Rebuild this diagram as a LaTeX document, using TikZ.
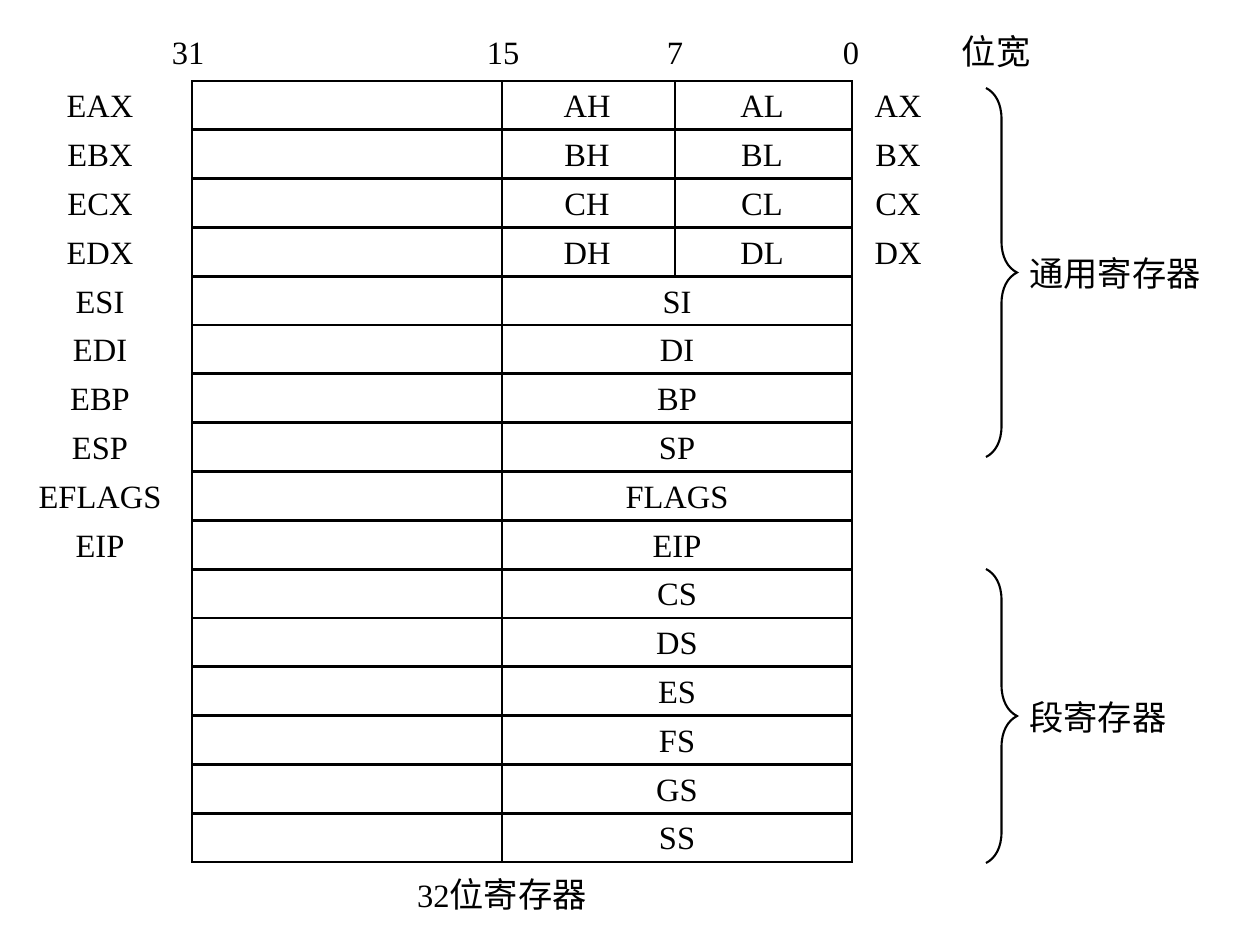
\documentclass[tikz,border=0pt]{standalone}
\usepackage{fontspec}
\setmainfont{Liberation Serif}
\newfontfamily\cjk{Noto Sans CJK SC}
\usetikzlibrary{positioning,decorations.pathreplacing}
\newcommand{\rowh}{48.8125}
\tikzset{
  reg/.style={font=\fontsize{18.5}{20}\selectfont,inner sep=0pt,yshift=-1pt},
  grp/.style={font=\fontsize{19.5}{21}\selectfont\cjk,inner sep=0pt,anchor=west},
  tbl/.style={line width=1.6pt},
  brc/.style={decorate,decoration={brace,amplitude=0.62cm},line width=1.2pt},
}

\begin{document}
\begin{tikzpicture}[x=0.02cm,y=-0.02cm]
  \useasboundingbox (0,0) rectangle (1241,936);
  % register table
  \draw[tbl] (192,81) rectangle (852,862);
  \foreach \i in {1,...,15} {\draw[tbl] (192,81+\i*\rowh) -- (852,81+\i*\rowh);}
  \draw[tbl] (502,81) -- (502,862);
  \draw[tbl] (675,81) -- (675,81+4*\rowh);
  % bit positions
  \node[reg] (b31) at (188,52) {31};
  \node[reg] (b15) at (503,52) {15};
  \node[reg] (b7) at (675,52) {7};
  \node[reg] (b0) at (851,52) {0};
  \node[grp,anchor=center] (width) at (996,52) {位宽};
  % 32-bit names on the left
  \foreach \n [count=\i from 0] in {EAX,EBX,ECX,EDX,ESI,EDI,EBP,ESP,EFLAGS,EIP}
    \node[reg] (e\n) at (100,81+\i*\rowh+0.5*\rowh) {\n};
  % byte halves
  \foreach \h/\l/\x [count=\i from 0] in {AH/AL/AX,BH/BL/BX,CH/CL/CX,DH/DL/DX} {
    \node[reg] (\h) at (587,81+\i*\rowh+0.5*\rowh) {\h};
    \node[reg] (\l) at (762,81+\i*\rowh+0.5*\rowh) {\l};
    \node[reg] (\x) at (898,81+\i*\rowh+0.5*\rowh) {\x};
  }
  % 16-bit halves
  \foreach \n [count=\i from 4] in {SI,DI,BP,SP,FLAGS,EIP,CS,DS,ES,FS,GS,SS}
    \node[reg] (w\n) at (677,81+\i*\rowh+0.5*\rowh) {\n};
  % groups
  \coordinate (gtop) at (986,88);
  \coordinate (gbot) at (986,457);
  \coordinate (stop) at (986,569);
  \coordinate (sbot) at (986,863);
  \draw[brc] (gtop) -- (gbot);
  \draw[brc] (stop) -- (sbot);
  \node[grp] (general) at (1029,273) {通用寄存器};
  \node[grp] (segment) at (1029,717) {段寄存器};
  \node[grp,anchor=center] (caption) at (502,894) {{\fontsize{18.5}{20}\selectfont\rmfamily 32}位寄存器};
\end{tikzpicture}
\end{document}
